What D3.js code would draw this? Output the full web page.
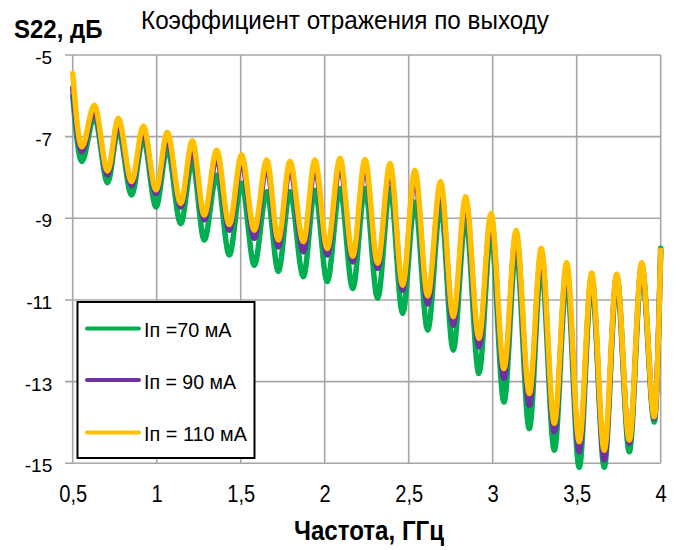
<!DOCTYPE html>
<html><head><meta charset="utf-8">
<script src="https://cdn.jsdelivr.net/npm/d3@7"></script>
<style>
body{margin:0;background:#fff;}
text{font-family:'Liberation Sans',Arial,sans-serif;fill:#000;}
</style></head>
<body><svg id="c" width="680" height="550"></svg>
<script>
// Frequencies (GHz) of start, alternating troughs/peaks, end
const freq = [0.5,0.554,0.629,0.708,0.771,0.851,0.920,0.996,1.063,1.143,1.212,1.283,1.357,1.432,1.505,1.581,1.655,1.724,1.793,1.873,1.942,2.015,2.091,2.167,2.240,2.315,2.389,2.464,2.537,2.613,2.690,2.765,2.839,2.918,2.990,3.067,3.139,3.218,3.289,3.367,3.440,3.515,3.589,3.664,3.738,3.813,3.887,3.962,4.0];
const s70 = [-6.0,-7.61,-6.51,-8.13,-6.84,-8.43,-7.04,-8.72,-7.29,-9.13,-7.61,-9.53,-7.94,-9.9,-8.14,-10.15,-8.35,-10.3,-8.35,-10.43,-8.31,-10.55,-8.27,-10.72,-8.27,-10.96,-8.27,-11.33,-8.6,-11.74,-8.68,-12.23,-9.0,-12.8,-9.37,-13.5,-9.76,-14.15,-10.17,-14.68,-10.47,-15.1,-10.55,-15.1,-10.51,-14.72,-10.23,-13.99,-9.73];
const s90 = [-5.8,-7.37,-6.35,-7.94,-6.68,-8.2,-6.87,-8.4,-7.05,-8.72,-7.3,-9.04,-7.5,-9.29,-7.6,-9.49,-7.72,-9.7,-7.75,-9.82,-7.72,-9.9,-7.68,-10.07,-7.7,-10.23,-7.8,-10.76,-7.95,-11.1,-8.25,-11.62,-8.6,-12.15,-9.0,-12.92,-9.4,-13.58,-9.85,-14.23,-10.2,-14.72,-10.42,-14.92,-10.42,-14.51,-10.15,-13.9,-9.78];
const s110 = [-5.45,-7.25,-6.23,-7.84,-6.55,-8.1,-6.74,-8.3,-6.9,-8.63,-7.1,-8.92,-7.33,-9.15,-7.45,-9.29,-7.57,-9.53,-7.61,-9.57,-7.57,-9.74,-7.53,-9.93,-7.56,-10.1,-7.66,-10.64,-7.82,-10.9,-8.1,-11.41,-8.47,-11.94,-8.88,-12.68,-9.3,-13.29,-9.74,-14.02,-10.09,-14.47,-10.34,-14.68,-10.37,-14.43,-10.09,-13.86,-9.78];
const xTicks = [0.5,1,1.5,2,2.5,3,3.5,4];
const xTickLabels = ["0,5","1","1,5","2","2,5","3","3,5","4"];
const yTicks = [-5,-7,-9,-11,-13,-15];
const seriesNames = ["Iп =70 мА","Iп = 90 мА","Iп = 110 мА"];
const seriesColors = ["#00B050","#7030A0","#FFC000"];
const seriesData = [s70,s90,s110];

const svg = d3.select("#c");
const x = d3.scaleLinear().domain([0.5,4]).range([72.7,660.7]);
const y = d3.scaleLinear().domain([-15,-5]).range([463.3,55]);

// grid
const grid = svg.append("g").attr("stroke","#a6a6a6").attr("stroke-width",1.6);
grid.selectAll(".hg").data(yTicks).join("line")
  .attr("x1",65).attr("x2",x(4)).attr("y1",d=>y(d)).attr("y2",d=>y(d));
grid.selectAll(".vg").data(xTicks).join("line")
  .attr("x1",d=>x(d)).attr("x2",d=>x(d)).attr("y1",y(-5)).attr("y2",y(-15));

// x axis labels
const xa = d3.axisBottom(x).tickValues(xTicks).tickFormat((d,i)=>xTickLabels[i]).tickSize(0);
const gx = svg.append("g").attr("transform",`translate(0,${y(-15)})`).call(xa);
gx.select(".domain").remove();
gx.selectAll("text").attr("y",38.4).attr("dy",null).attr("font-size",24)
  .attr("transform","scale(0.84,1)").style("font-family","'Liberation Sans',Arial,sans-serif").attr("fill","#000");

// y axis labels
const ya = d3.axisLeft(y).tickValues(yTicks).tickFormat(d=>String(d)).tickSize(0);
const gy = svg.append("g").attr("transform",`translate(${x(0.5)},0)`).call(ya);
gy.select(".domain").remove();
gy.selectAll("text").attr("x",-20.5).attr("dy",null).attr("y",8.6).attr("font-size",19)
  .style("font-family","'Liberation Sans',Arial,sans-serif").attr("fill","#000");

// lines
const line = d3.line().x((d,i)=>x(freq[i])).y(d=>y(d)).curve(d3.curveMonotoneX);
svg.append("g").selectAll("path").data(seriesData).join("path")
  .attr("d",d=>line(d)).attr("fill","none")
  .attr("stroke",(d,i)=>seriesColors[i]).attr("stroke-width",5.5)
  .attr("stroke-linejoin","round").attr("stroke-linecap","round");

// legend
const lg = svg.append("g");
lg.append("rect").attr("x",77.5).attr("y",302).attr("width",177).attr("height",156)
  .attr("fill","#fff").attr("stroke","#000").attr("stroke-width",2);
const ly = [328.5,380,432.5];
const lb = [336.7,389,440.7];
const lw = [87.5,92,103];
seriesNames.forEach((n,i)=>{
  lg.append("line").attr("x1",87).attr("x2",139).attr("y1",ly[i]).attr("y2",ly[i])
    .attr("stroke",seriesColors[i]).attr("stroke-width",4).attr("stroke-linecap","round");
  lg.append("text").attr("x",144).attr("y",lb[i]).attr("font-size",21)
    .attr("textLength",lw[i]).attr("lengthAdjust","spacingAndGlyphs").text(n);
});

// titles
svg.append("text").attr("x",141).attr("y",29).attr("font-size",25)
  .attr("textLength",408).attr("lengthAdjust","spacingAndGlyphs").text("Коэффициент отражения по выходу");
svg.append("text").attr("x",14).attr("y",38.3).attr("font-size",26.5).attr("font-weight","bold")
  .attr("textLength",88.5).attr("lengthAdjust","spacingAndGlyphs").text("S22, дБ");
svg.append("text").attr("x",294).attr("y",540).attr("font-size",28).attr("font-weight","bold")
  .attr("textLength",150).attr("lengthAdjust","spacingAndGlyphs").text("Частота, ГГц");
</script></body></html>
